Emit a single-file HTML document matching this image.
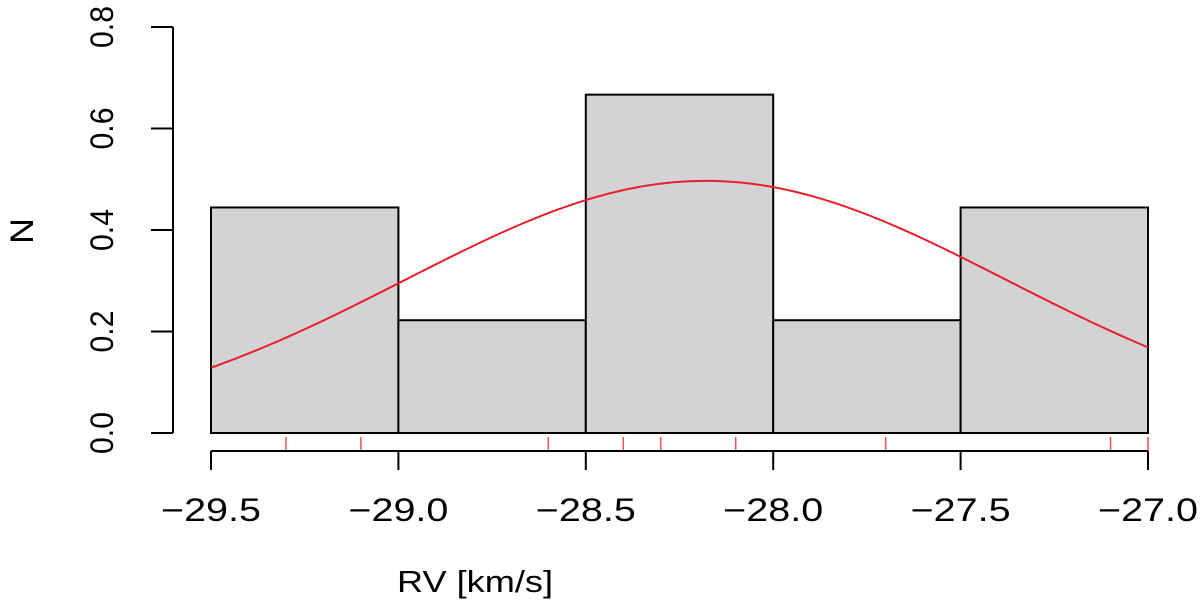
<!DOCTYPE html>
<html><head><meta charset="utf-8"><style>
html,body{margin:0;padding:0;background:#fff;}
svg text{font-family:"Liberation Sans",Arial,sans-serif;fill:#000;}
</style></head><body>
<svg width="1200" height="609" viewBox="0 0 1200 609">
<g id="bars"></g>
<g id="curve"></g>
<g id="rug"></g>
<g id="xaxis"></g>
<g id="yaxis"></g>
<text x="475" y="592" font-size="31" text-anchor="middle" textLength="156" lengthAdjust="spacingAndGlyphs">RV [km/s]</text>
<text transform="translate(33,231) rotate(-90)" font-size="32" text-anchor="middle" textLength="26" lengthAdjust="spacingAndGlyphs">N</text>
</svg>
<script>
const binEdges = [-29.5, -29.0, -28.5, -28.0, -27.5, -27.0];
const densities = [0.4444, 0.2222, 0.6667, 0.2222, 0.4444];
const rugValues = [-29.3, -29.1, -28.6, -28.4, -28.3, -28.1, -27.7, -27.1, -27.0];
const xTicks = [-29.5, -29.0, -28.5, -28.0, -27.5, -27.0];
const xTickLabels = ["\u221229.5", "\u221229.0", "\u221228.5", "\u221228.0", "\u221227.5", "\u221227.0"];
const yTicks = [0, 0.2, 0.4, 0.6, 0.8];
const yTickLabels = ["0.0", "0.2", "0.4", "0.6", "0.8"];
const fitMean = -28.18;
const fitSd = 0.803;

const NS = "http://www.w3.org/2000/svg";
const X = v => 211 + (v + 29.5) * (1148 - 211) / 2.5;
const Y = v => 433 - v * (433 - 27) / 0.8;
function mk(tag, attrs, parent) {
  const e = document.createElementNS(NS, tag);
  for (const k in attrs) e.setAttribute(k, attrs[k]);
  parent.appendChild(e);
  return e;
}
const bars = document.getElementById('bars');
densities.forEach((d, i) => {
  const r = mk('rect', {x: X(binEdges[i]), y: Y(d), width: X(binEdges[i+1]) - X(binEdges[i]), height: Y(0) - Y(d), fill: '#d3d3d6', stroke: '#000', 'stroke-width': 2}, bars);
  
  
});
const curveG = document.getElementById('curve');
let pts = [];
for (let i = 0; i <= 200; i++) {
  const v = -29.5 + 2.5 * i / 200;
  const d = Math.exp(-Math.pow(v - fitMean, 2) / (2 * fitSd * fitSd)) / (fitSd * Math.sqrt(2 * Math.PI));
  pts.push(X(v).toFixed(2) + ',' + Y(d).toFixed(2));
}
const pl = mk('polyline', {points: pts.join(' '), fill: 'none', stroke: '#e8202a', 'stroke-width': 2}, curveG);


const rug = document.getElementById('rug');
rugValues.forEach(v => {
  const l = mk('line', {x1: X(v), x2: X(v), y1: 437, y2: 451, stroke: '#f0505a', 'stroke-width': 1.5}, rug);
  
  
});
const xa = document.getElementById('xaxis');
mk('line', {x1: X(xTicks[0]), x2: X(xTicks[xTicks.length-1]), y1: 451, y2: 451, stroke: '#000', 'stroke-width': 2}, xa);
xTicks.forEach((t, i) => {
  mk('line', {x1: X(t), x2: X(t), y1: 451, y2: 470, stroke: '#000', 'stroke-width': 2}, xa);
  const tx = mk('text', {x: X(t), y: 521, 'font-size': 32, 'text-anchor': 'middle', textLength: 100, lengthAdjust: 'spacingAndGlyphs'}, xa);
  tx.textContent = xTickLabels[i];
  
  
});
const ya = document.getElementById('yaxis');
mk('line', {x1: 173, x2: 173, y1: Y(yTicks[0]), y2: Y(yTicks[yTicks.length-1]), stroke: '#000', 'stroke-width': 2}, ya);
yTicks.forEach((t, i) => {
  mk('line', {x1: 151, x2: 173, y1: Y(t), y2: Y(t), stroke: '#000', 'stroke-width': 2}, ya);
  const tx = mk('text', {transform: `translate(113,${Y(t)}) rotate(-90)`, 'font-size': 32, 'text-anchor': 'middle', textLength: 42, lengthAdjust: 'spacingAndGlyphs'}, ya);
  tx.textContent = yTickLabels[i];
  
  
});
</script>
</body></html>
